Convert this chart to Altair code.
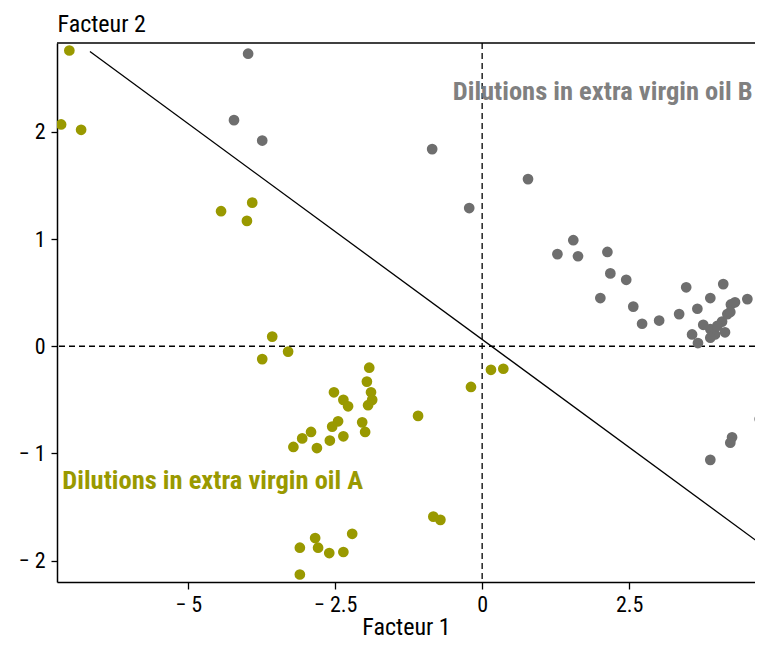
import altair as alt
import pandas as pd

# ---- data ----
a_x = [-7.02, -7.16, -6.82, -4.44, -3.91, -4.00, -3.57, -3.74, -3.30,
       -1.92, -1.96, -1.89, -1.87, -1.94, -2.52, -2.36, -2.28, -2.04, -1.99,
       -2.45, -2.55, -2.36, -2.59, -2.81, -2.91, -3.06, -3.21,
       -1.09, -0.19, 0.15, 0.36, -0.83, -0.71,
       -3.10, -2.84, -2.79, -2.60, -2.36, -2.21, -3.10]
a_y = [2.76, 2.07, 2.02, 1.26, 1.34, 1.17, 0.09, -0.12, -0.05,
       -0.20, -0.33, -0.43, -0.50, -0.55, -0.43, -0.50, -0.56, -0.71, -0.80,
       -0.70, -0.75, -0.84, -0.88, -0.95, -0.80, -0.86, -0.94,
       -0.65, -0.38, -0.22, -0.21, -1.59, -1.62,
       -1.88, -1.79, -1.88, -1.93, -1.92, -1.75, -2.13]

b_x = [-3.98, -4.22, -3.74, -0.85, -0.22, 0.78,
       1.28, 1.55, 1.63, 2.13, 2.18, 2.45, 2.01, 2.57, 2.72, 3.01, 3.35, 3.47,
       3.66, 3.88, 4.10, 4.23, 4.51,
       3.57, 3.67, 3.76, 3.88, 3.96, 4.08, 4.13, 4.17, 3.88, 4.00, 4.22, 4.30,
       4.25, 4.22, 3.88, 4.72]
b_y = [2.73, 2.11, 1.92, 1.84, 1.29, 1.56,
       0.86, 0.99, 0.84, 0.88, 0.68, 0.62, 0.45, 0.37, 0.21, 0.24, 0.30, 0.55,
       0.35, 0.45, 0.58, 0.39, 0.44,
       0.11, 0.03, 0.20, 0.16, 0.11, 0.23, 0.13, 0.30, 0.08, 0.19, 0.32, 0.41,
       -0.85, -0.90, -1.06, -0.68]

line_x = [-6.67, 4.85]
line_y = [2.75, -1.89]

labels = ["Dilutions in extra virgin oil A", "Dilutions in extra virgin oil B"]
label_x = [-7.14, 4.60]
label_y = [-1.26, 2.37]

groups = ["A", "B"]
colors = ["#999900", "#6e6e6e"]
text_colors = ["#999900", "#808080"]

x_ticks = [-5, -2.5, 0, 2.5]
y_ticks = [-2, -1, 0, 1, 2]
x_domain = [-7.23, 4.64]
y_domain = [-2.20, 2.83]

FONT = "Roboto Condensed"
W, H = 698, 539

pts = pd.DataFrame({
    "x": a_x + b_x,
    "y": a_y + b_y,
    "g": ["A"] * len(a_x) + ["B"] * len(b_x),
})

xs = alt.Scale(domain=x_domain, nice=False, zero=False)
ys = alt.Scale(domain=y_domain, nice=False, zero=False)

x_axis = alt.Axis(values=x_ticks, title="Facteur 1", grid=False, format=".1~f",
                  labelExpr="replace(datum.label, '−', '− ')",
                  tickSize=7, labelPadding=5,
                  titleBaseline="alphabetic", titleY=52)
y_axis = alt.Axis(values=y_ticks, title="Facteur 2", grid=False, format="d",
                  labelExpr="replace(datum.label, '−', '− ')",
                  tickSize=6, labelPadding=6,
                  titleAngle=0, titleAlign="left", titleBaseline="alphabetic",
                  titleX=0, titleY=-12)

points = alt.Chart(pts).mark_circle(size=115, opacity=1, clip=True).encode(
    x=alt.X("x:Q", scale=xs, axis=x_axis),
    y=alt.Y("y:Q", scale=ys, axis=y_axis),
    color=alt.Color("g:N", scale=alt.Scale(domain=groups, range=colors), legend=None),
)

sep = alt.Chart(pd.DataFrame({"x": line_x, "y": line_y})).mark_line(
    color="black", strokeWidth=1.3, clip=True
).encode(x=alt.X("x:Q", scale=xs), y=alt.Y("y:Q", scale=ys))

vrule = alt.Chart(pd.DataFrame({"x": [0]})).mark_rule(
    color="black", strokeDash=[6, 4], strokeWidth=1.3
).encode(x=alt.X("x:Q", scale=xs))
hrule = alt.Chart(pd.DataFrame({"y": [0]})).mark_rule(
    color="black", strokeDash=[6, 4], strokeWidth=1.3
).encode(y=alt.Y("y:Q", scale=ys))

top_border = alt.Chart(pd.DataFrame({"d": [0]})).mark_rule(
    color="black", strokeWidth=1.5
).encode(y=alt.value(0), x=alt.value(0), x2=alt.value(W))

ann = pd.DataFrame({"label": labels, "x": label_x, "y": label_y, "g": groups})
text_a = alt.Chart(ann[ann.g == "A"]).mark_text(
    align="left", baseline="middle", font=FONT, fontSize=26.5,
    color=text_colors[0], fontWeight="bold"
).encode(x=alt.X("x:Q", scale=xs), y=alt.Y("y:Q", scale=ys), text="label:N")
text_b = alt.Chart(ann[ann.g == "B"]).mark_text(
    align="right", baseline="middle", font=FONT, fontSize=26.5,
    color=text_colors[1], fontWeight="bold"
).encode(x=alt.X("x:Q", scale=xs), y=alt.Y("y:Q", scale=ys), text="label:N")

chart = alt.layer(vrule, hrule, sep, points, text_a, text_b, top_border).properties(
    width=W, height=H,
    autosize=alt.AutoSizeParams(type="none"),
    padding={"left": 49, "top": 35, "right": 0, "bottom": 58},
).configure_view(stroke=None).configure_axis(
    domainColor="black", domainWidth=1.5, tickColor="black", tickWidth=1.3,
    labelFont=FONT, labelFontSize=22, labelColor="black",
    titleFont=FONT, titleFontSize=24, titleFontWeight="normal", titleColor="black",
)

chart.save("out.html", embed_options={"renderer": "svg", "actions": False})
